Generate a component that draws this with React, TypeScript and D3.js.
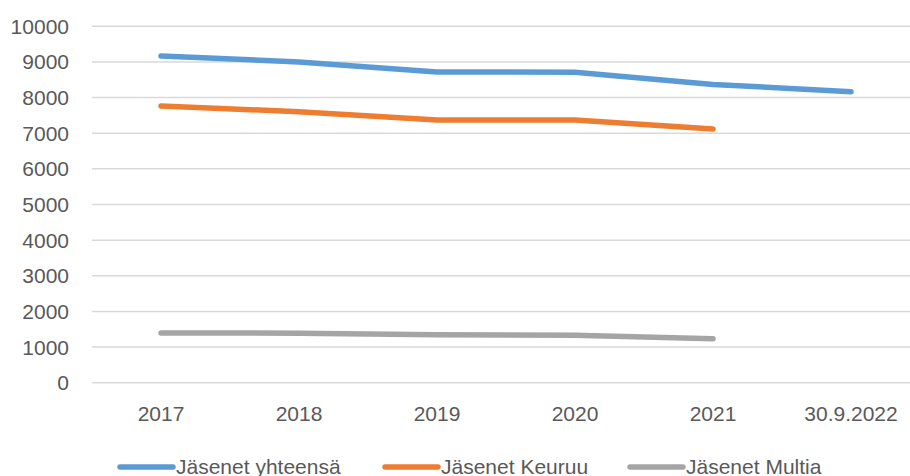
import React from "react";
import * as d3 from "d3";

const categories = ["2017", "2018", "2019", "2020", "2021", "30.9.2022"];
const seriesNames = ["Jäsenet yhteensä", "Jäsenet Keuruu", "Jäsenet Multia"];
const yhteensa = [9170, 9000, 8720, 8710, 8370, 8165];
const keuruu = [7765, 7605, 7370, 7370, 7118];
const multia = [1395, 1390, 1347, 1330, 1235];
const yTicks = [0, 1000, 2000, 3000, 4000, 5000, 6000, 7000, 8000, 9000, 10000];

const colors = ["#5B9BD5", "#ED7D31", "#A5A5A5"];
const series = [yhteensa, keuruu, multia];

const W = 910;
const H = 476;
const font = "'Liberation Sans', Arial, sans-serif";
const textColor = "#595959";

export default function App() {
  const x = d3.scaleBand<string>().domain(categories).range([92, 920]);
  const y = d3.scaleLinear().domain([0, 10000]).range([382.7, 26.3]);
  const line = d3
    .line<number>()
    .x((_, i) => (x(categories[i]) as number) + x.bandwidth() / 2)
    .y((d) => y(d));

  const legendX = [118, 383, 628];

  return (
    <svg
      width={W}
      height={H}
      style={{ position: "absolute", left: 0, top: 0, background: "#fff" }}
      fontFamily={font}
    >
      {yTicks.map((t) => (
        <g key={t}>
          <line x1={92} x2={W} y1={y(t)} y2={y(t)} stroke="#d9d9d9" strokeWidth={1.5} />
          <text
            x={69}
            y={y(t)}
            textAnchor="end"
            dominantBaseline="central"
            fontSize={21}
            fill={textColor}
          >
            {t}
          </text>
        </g>
      ))}
      {categories.map((c) => (
        <text
          key={c}
          x={(x(c) as number) + x.bandwidth() / 2}
          y={413}
          textAnchor="middle"
          dominantBaseline="central"
          fontSize={21}
          fill={textColor}
        >
          {c}
        </text>
      ))}
      {series.map((s, i) => (
        <path
          key={i}
          d={line(s) || ""}
          fill="none"
          stroke={colors[i]}
          strokeWidth={5.5}
          strokeLinecap="round"
          strokeLinejoin="round"
        />
      ))}
      {seriesNames.map((n, i) => (
        <g key={n} transform={`translate(${legendX[i]},467)`}>
          <line x1={2} x2={55} y1={0} y2={0} stroke={colors[i]} strokeWidth={5.5} strokeLinecap="round" />
          <text x={58} y={6.5} fontSize={21} fill={textColor}>
            {n}
          </text>
        </g>
      ))}
    </svg>
  );
}
